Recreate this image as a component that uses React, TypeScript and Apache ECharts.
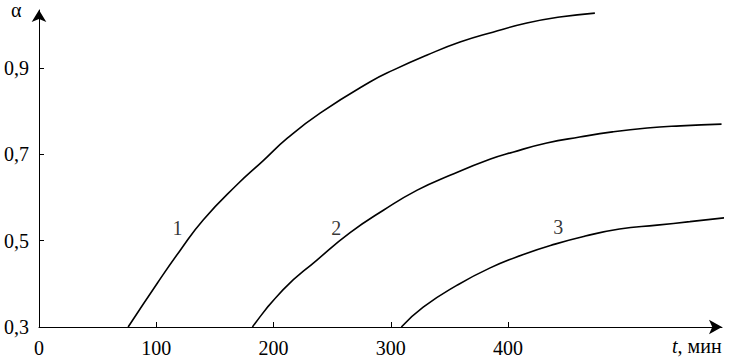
import React, { useEffect, useRef } from "react";
import * as echarts from "echarts";

// Curve 1
const curve1T = [76, 101, 120.5, 140, 169, 191, 212, 240, 282.5, 302, 331, 359, 387, 416, 444, 474];
const curve1A = [0.3, 0.402, 0.478, 0.548, 0.63, 0.685, 0.738, 0.796, 0.868, 0.895, 0.93, 0.96, 0.983, 1.004, 1.018, 1.027];
// Curve 2
const curve2T = [182, 208, 237, 265, 294, 322.5, 351, 385, 404, 433, 461, 489, 518.6, 547, 582];
const curve2A = [0.3, 0.386, 0.455, 0.518, 0.571, 0.617, 0.652, 0.689, 0.705, 0.726, 0.74, 0.752, 0.761, 0.766, 0.77];
// Curve 3
const curve3T = [309, 327.6, 356.6, 384.7, 413, 440, 465, 495, 527, 555, 591];
const curve3A = [0.3, 0.346, 0.397, 0.437, 0.468, 0.492, 0.51, 0.527, 0.536, 0.544, 0.555];

// Curve number labels (positions in data units)
const curveNames = ["1", "2", "3"];
const labelT = [118, 253.5, 442.7];
const labelA = [0.529, 0.529, 0.532];

// Axis ticks
const xLabelValues = [0, 100, 200, 300, 400];
const xTickValues = [100, 200, 300, 400];
const yLabelValues = [0.3, 0.5, 0.7, 0.9];
const yTickValues = [0.5, 0.7, 0.9];

const FONT = "'Liberation Serif', 'Times New Roman', 'DejaVu Serif', serif";

const zip = (t: number[], a: number[]) => t.map((v, i) => [v, a[i]]);

export default function App() {
  const ref = useRef<HTMLDivElement>(null);
  useEffect(() => {
    document.body.style.margin = "0";
    if (!ref.current) return;
    const chart = echarts.init(ref.current, undefined, { renderer: "svg" });
    const lineSeries = (data: number[][]) => ({
      type: "line",
      data,
      smooth: 0.5,
      showSymbol: false,
      symbol: "none",
      clip: false,
      lineStyle: { color: "#000", width: 1.6 },
    });
    chart.setOption({
      animation: false,
      backgroundColor: "#fff",
      grid: { left: 39, right: 11, top: 10, bottom: 34, containLabel: false },
      xAxis: {
        type: "value",
        min: 0,
        max: 582.4,
        axisLine: {
          show: true,
          lineStyle: { color: "#000", width: 1 },
          symbol: ["none", "arrow"],
          symbolSize: [11, 13],
        },
        axisTick: { show: true, inside: true, length: 5, customValues: xTickValues, lineStyle: { color: "#000" } },
        axisLabel: {
          customValues: xLabelValues,
          color: "#000",
          fontFamily: FONT,
          fontSize: 20,
          margin: 11,
          formatter: (v: number) => String(v),
        },
        splitLine: { show: false },
      },
      yAxis: {
        type: "value",
        min: 0.3,
        max: 1.0343,
        axisLine: {
          show: true,
          lineStyle: { color: "#000", width: 1 },
          symbol: ["none", "arrow"],
          symbolSize: [11, 12],
        },
        axisTick: { show: true, inside: true, length: 5, customValues: yTickValues, lineStyle: { color: "#000" } },
        axisLabel: {
          customValues: yLabelValues,
          color: "#000",
          fontFamily: FONT,
          fontSize: 20,
          margin: 10,
          formatter: (v: number) => v.toFixed(1).replace(".", ","),
        },
        splitLine: { show: false },
      },
      series: [
        lineSeries(zip(curve1T, curve1A)),
        lineSeries(zip(curve2T, curve2A)),
        lineSeries(zip(curve3T, curve3A)),
        {
          type: "scatter",
          symbolSize: 0,
          data: curveNames.map((n, i) => ({ value: [labelT[i], labelA[i]], name: n })),
          label: {
            show: true,
            position: "inside",
            formatter: (p: any) => p.name,
            color: "#000",
            fontFamily: FONT,
            fontSize: 20,
          },
        },
      ],
      graphic: [
        {
          type: "text",
          left: 11,
          top: 0,
          style: { text: "α", font: `20px ${FONT}`, fill: "#000" },
        },
        {
          type: "text",
          left: 672,
          top: 336,
          style: {
            text: "{i|t}, мин",
            font: `20px ${FONT}`,
            fill: "#000",
            rich: { i: { fontStyle: "italic", fontFamily: FONT, fontSize: 20 } },
          },
        },
      ],
    });
    return () => chart.dispose();
  }, []);
  return <div ref={ref} style={{ width: 733, height: 361 }} />;
}
